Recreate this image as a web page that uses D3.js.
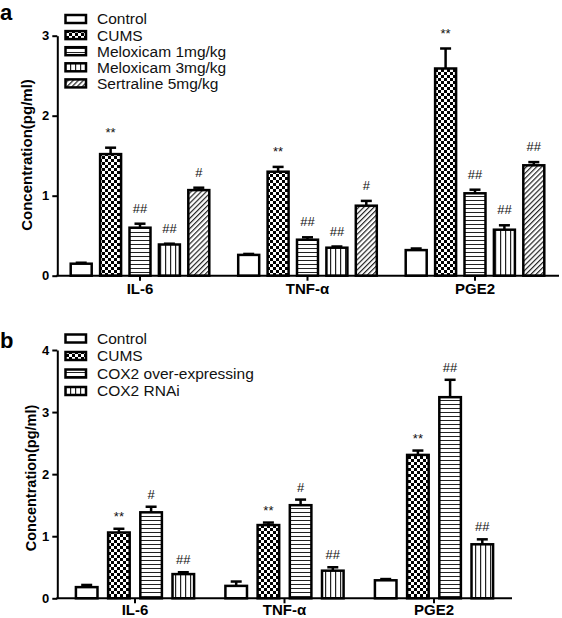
<!DOCTYPE html>
<html>
<head>
<meta charset="utf-8">
<script src="https://cdn.jsdelivr.net/npm/d3@7/dist/d3.min.js"></script>
<style>
  html, body { margin: 0; padding: 0; background: #fff; }
  svg { display: block; font-family: "Liberation Sans", Arial, sans-serif; }
</style>
</head>
<body>
<svg id="chart" width="562" height="618"></svg>
<script>
// ---------------- DATA ----------------
const groups = ["IL-6", "TNF-α", "PGE2"];
const yTicksA = [0, 1, 2, 3];
const yTicksB = [0, 1, 2, 3, 4];

// Panel a
const seriesA = ["Control", "CUMS", "Meloxicam 1mg/kg", "Meloxicam 3mg/kg", "Sertraline 5mg/kg"];
const controlA = [0.15, 0.26, 0.32];
const cumsA = [1.52, 1.30, 2.59];
const melox1A = [0.60, 0.45, 1.03];
const melox3A = [0.39, 0.35, 0.575];
const sertA = [1.07, 0.875, 1.38];
const controlErrA = [0.012, 0.012, 0.02];
const cumsErrA = [0.08, 0.06, 0.25];
const melox1ErrA = [0.05, 0.03, 0.045];
const melox3ErrA = [0.01, 0.015, 0.055];
const sertErrA = [0.03, 0.06, 0.04];
const controlSigA = ["", "", ""];
const cumsSigA = ["**", "**", "**"];
const melox1SigA = ["##", "##", "##"];
const melox3SigA = ["##", "##", "##"];
const sertSigA = ["#", "#", "##"];

// Panel b
const seriesB = ["Control", "CUMS", "COX2 over-expressing", "COX2 RNAi"];
const controlB = [0.18, 0.20, 0.29];
const cumsB = [1.06, 1.18, 2.31];
const coxOverB = [1.385, 1.50, 3.24];
const coxRnaiB = [0.39, 0.445, 0.87];
const controlErrB = [0.035, 0.07, 0.02];
const cumsErrB = [0.06, 0.04, 0.07];
const coxOverErrB = [0.09, 0.09, 0.28];
const coxRnaiErrB = [0.03, 0.055, 0.08];
const controlSigB = ["", "", ""];
const cumsSigB = ["**", "**", "**"];
const coxOverSigB = ["#", "#", "##"];
const coxRnaiSigB = ["##", "##", "##"];

const yTitle = "Concentration(pg/ml)";

// ---------------- DRAW ----------------
const svg = d3.select("#chart");
const defs = svg.append("defs");

function pat(id, w, h, build, transform) {
  const p = defs.append("pattern").attr("id", id)
    .attr("patternUnits", "userSpaceOnUse").attr("width", w).attr("height", h);
  if (transform) p.attr("patternTransform", transform);
  p.append("rect").attr("width", w).attr("height", h).attr("fill", "#fff");
  build(p);
}
pat("checker", 6, 6, p => {
  p.append("rect").attr("x", 0).attr("y", 0).attr("width", 3).attr("height", 3).attr("fill", "#000");
  p.append("rect").attr("x", 3).attr("y", 3).attr("width", 3).attr("height", 3).attr("fill", "#000");
});
pat("hlines", 4, 4, p => {
  p.append("rect").attr("x", 0).attr("y", 0).attr("width", 4).attr("height", 1).attr("fill", "#222");
});
pat("vlines", 5, 5, p => {
  p.append("rect").attr("x", 0).attr("y", 0).attr("width", 1.2).attr("height", 5).attr("fill", "#222");
});
pat("diag", 3.6, 3.6, p => {
  p.append("rect").attr("x", 0).attr("y", 0).attr("width", 1.2).attr("height", 3.6).attr("fill", "#222");
}, "rotate(45)");

function panel(cfg) {
  const g = svg.append("g");
  const y = d3.scaleLinear().domain(cfg.yDomain).range([cfg.y0, cfg.yTop]);
  const x0 = d3.scaleBand().domain(groups).range(cfg.xRange).paddingInner(0).paddingOuter(0);
  const x1 = d3.scaleBand().domain(cfg.series).range([-cfg.innerHalf, cfg.innerHalf])
    .paddingInner(cfg.padIn).paddingOuter(cfg.padIn / 2);

  const rows = [];
  cfg.series.forEach((s, si) => {
    groups.forEach((gname, gi) => {
      rows.push({ s, si, g: gname, v: cfg.values[si][gi], e: cfg.errors[si][gi], sig: cfg.sigs[si][gi] });
    });
  });
  const cx = d => x0(d.g) + x0.bandwidth() / 2 + x1(d.s);
  const bw = x1.bandwidth();

  // error bars
  g.selectAll(".err").data(rows).join("g").each(function (d) {
    const gg = d3.select(this);
    const mx = cx(d) + bw / 2;
    gg.append("line").attr("x1", mx).attr("x2", mx).attr("y1", y(d.v)).attr("y2", y(d.v + d.e))
      .attr("stroke", "#000").attr("stroke-width", 2.5);
    gg.append("line").attr("x1", mx - 5.5).attr("x2", mx + 5.5).attr("y1", y(d.v + d.e)).attr("y2", y(d.v + d.e))
      .attr("stroke", "#000").attr("stroke-width", 2.5);
  });

  // bars
  g.selectAll(".bar").data(rows).join("rect")
    .attr("x", d => cx(d)).attr("width", bw)
    .attr("y", d => y(d.v)).attr("height", d => y(0) - y(d.v))
    .attr("fill", d => cfg.fills[d.si]).attr("stroke", "#000").attr("stroke-width", 2.5);

  // significance marks
  g.selectAll(".sig").data(rows.filter(d => d.sig)).join("text")
    .attr("x", d => cx(d) + bw / 2).attr("y", d => y(d.v + d.e) - cfg.sigOff)
    .attr("text-anchor", "middle").attr("font-size", 13).attr("fill", "#111")
    .text(d => d.sig);

  // y axis
  const ya = g.append("g").attr("transform", `translate(${cfg.axisX},0)`)
    .call(d3.axisLeft(y).tickValues(cfg.yTicks).tickSize(5).tickSizeOuter(0).tickFormat(d3.format("d")));
  ya.select(".domain").attr("stroke-width", 2);
  ya.selectAll(".tick line").attr("stroke-width", 2);
  ya.selectAll(".tick text").attr("font-size", 13).attr("font-weight", "bold")
    .attr("font-family", "Liberation Sans, Arial, sans-serif");

  // x axis
  const xa = g.append("g").attr("transform", `translate(0,${cfg.y0})`)
    .call(d3.axisBottom(x0).tickSize(5).tickPadding(cfg.xPad));
  xa.select(".domain").remove();
  xa.selectAll(".tick line").attr("stroke-width", 2);
  xa.selectAll(".tick text").attr("font-size", 15).attr("font-weight", "bold")
    .attr("font-family", "Liberation Sans, Arial, sans-serif");
  g.append("line").attr("x1", cfg.axisX - 1).attr("x2", cfg.xEnd).attr("y1", cfg.y0).attr("y2", cfg.y0)
    .attr("stroke", "#000").attr("stroke-width", 2);

  // y title
  g.append("text").attr("transform", `translate(${cfg.titleX},${cfg.titleY}) rotate(-90)`)
    .attr("text-anchor", "middle").attr("dy", "0.35em")
    .attr("font-size", cfg.titleSize).attr("font-weight", "bold").text(yTitle);

  // panel letter
  g.append("text").attr("x", 0).attr("y", cfg.letterY).attr("font-size", 22)
    .attr("font-weight", "bold").text(cfg.letter);

  // legend
  const lg = g.append("g");
  cfg.series.forEach((s, i) => {
    const ry = cfg.legY + i * cfg.legStep;
    lg.append("rect").attr("x", 65.5).attr("y", ry - 4).attr("width", 20.5).attr("height", 8)
      .attr("fill", cfg.fills[i]).attr("stroke", "#000").attr("stroke-width", 2.5);
    lg.append("text").attr("x", 97).attr("y", ry).attr("dy", "0.35em")
      .attr("font-size", 15.5).attr("fill", "#111").text(s);
  });
}

panel({
  letter: "a", letterY: 20,
  series: seriesA,
  values: [controlA, cumsA, melox1A, melox3A, sertA],
  errors: [controlErrA, cumsErrA, melox1ErrA, melox3ErrA, sertErrA],
  sigs: [controlSigA, cumsSigA, melox1SigA, melox3SigA, sertSigA],
  fills: ["#fff", "url(#checker)", "url(#hlines)", "url(#vlines)", "url(#diag)"],
  yDomain: [0, 3], yTicks: yTicksA, y0: 275.7, yTop: 35.7,
  xRange: [56.25, 558.75], innerHalf: 73.5, padIn: 0.286,
  axisX: 57.3, xEnd: 559, xPad: 3,
  sigOff: 11,
  titleX: 27, titleY: 155, titleSize: 15,
  legY: 19, legStep: 16.1
});

panel({
  letter: "b", letterY: 348,
  series: seriesB,
  values: [controlB, cumsB, coxOverB, coxRnaiB],
  errors: [controlErrB, cumsErrB, coxOverErrB, coxRnaiErrB],
  sigs: [controlSigB, cumsSigB, coxOverSigB, coxRnaiSigB],
  fills: ["#fff", "url(#checker)", "url(#hlines)", "url(#vlines)"],
  yDomain: [0, 4], yTicks: yTicksB, y0: 598.3, yTop: 350,
  xRange: [60.25, 508.75], innerHalf: 64.4, padIn: 0.33,
  axisX: 57.3, xEnd: 512, xPad: 1,
  sigOff: 8,
  titleX: 31, titleY: 478, titleSize: 14.5,
  legY: 338.5, legStep: 17.5
});
</script>
</body>
</html>
